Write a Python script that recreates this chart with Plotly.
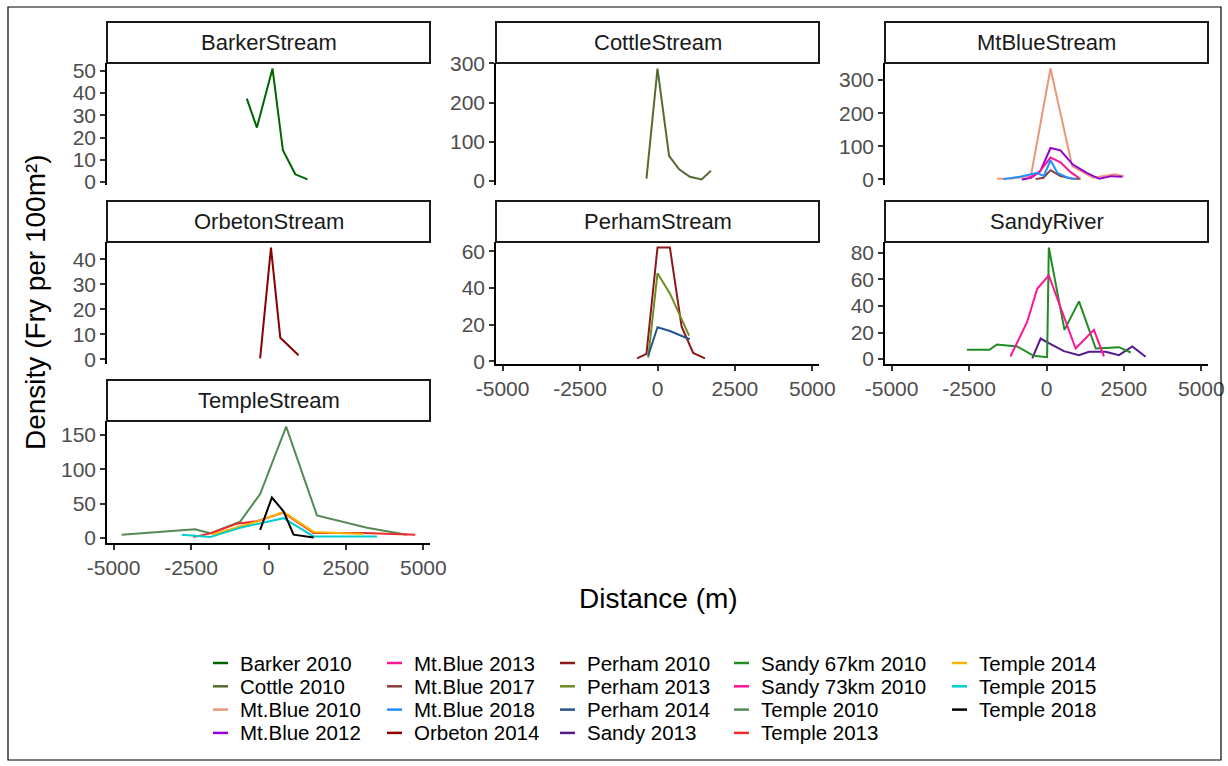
import plotly.graph_objects as go

# ---------------- data ----------------
panels = ["BarkerStream", "CottleStream", "MtBlueStream", "OrbetonStream",
          "PerhamStream", "SandyRiver", "TempleStream"]

barker_2010_x = [-700, -375, 130, 465, 865, 1260]
barker_2010_y = [37.5, 24.5, 51, 14.3, 3.5, 1.2]

cottle_2010_x = [-356, 0, 374, 699, 1045, 1424, 1725]
cottle_2010_y = [6, 287, 64, 30, 11, 4, 26]

mtblue_2010_x = [-1600, -1100, -500, 130, 830, 1500, 2200, 2500]
mtblue_2010_y = [2, 3, 12, 335, 40, 5, 16, 10]
mtblue_2012_x = [-800, -500, -200, 130, 450, 850, 1300, 1700, 2100, 2450]
mtblue_2012_y = [0, 5, 25, 95, 88, 45, 20, 2, 10, 8]
mtblue_2013_x = [-600, -250, 130, 450, 780, 1040]
mtblue_2013_y = [3, 20, 66, 52, 22, 5]
mtblue_2017_x = [-350, -100, 130, 450, 800, 1100]
mtblue_2017_y = [1, 5, 28, 10, 3, 2]
mtblue_2018_x = [-1400, -850, -300, -90, 130, 350, 670, 940]
mtblue_2018_y = [1, 8, 20, 10, 58, 20, 6, 1]

orbeton_2014_x = [-270, 80, 380, 970]
orbeton_2014_y = [0.3, 44.7, 8.6, 1.6]

perham_2010_x = [-660, -356, 0, 400, 777, 1152, 1531]
perham_2010_y = [1.5, 4, 62, 62, 19, 4.5, 1.5]
perham_2013_x = [-300, 0, 400, 1020]
perham_2013_y = [2, 48, 37, 14]
perham_2014_x = [-300, 0, 400, 1040]
perham_2014_y = [3, 18.5, 16.5, 12]

sandy_2013_x = [-460, -190, 75, 560, 1050, 1370, 1910, 2340, 2770, 3200]
sandy_2013_y = [0.5, 15.5, 12, 6, 3, 5.5, 5.5, 3, 9.5, 1.8]
sandy67_2010_x = [-2570, -1840, -1600, -1270, -950, -410, 20, 75, 580, 1050, 1590, 2340, 2720]
sandy67_2010_y = [7, 7, 11, 10.5, 9.5, 2.5, 1.5, 84, 22, 43.5, 8, 9, 5]
sandy73_2010_x = [-1165, -625, -300, 75, 940, 1530, 1855]
sandy73_2010_y = [2, 28, 53, 63, 8, 22, 2]

temple_2010_x = [-4740, -2370, -1885, -915, -270, 570, 1565, 3180, 4470]
temple_2010_y = [5, 13, 7, 24, 64, 162, 33, 15, 5]
temple_2013_x = [-2425, -1830, -1020, -375, 485, 1455, 3070, 4740]
temple_2013_y = [1.5, 7.4, 21, 24.5, 37, 7.4, 7.4, 4.9]
temple_2014_x = [-1830, -1020, -375, 485, 1455, 3070]
temple_2014_y = [5, 15, 24, 38, 9, 6]
temple_2015_x = [-2800, -1885, -915, -375, 485, 1455, 3500]
temple_2015_y = [5, 1.5, 15, 20, 29, 2.5, 2.5]
temple_2018_x = [-270, 110, 485, 810, 1455]
temple_2018_y = [12, 59, 39, 5, 1]

series = [
    ("Barker 2010", "BarkerStream", barker_2010_x, barker_2010_y),
    ("Cottle 2010", "CottleStream", cottle_2010_x, cottle_2010_y),
    ("Mt.Blue 2010", "MtBlueStream", mtblue_2010_x, mtblue_2010_y),
    ("Mt.Blue 2012", "MtBlueStream", mtblue_2012_x, mtblue_2012_y),
    ("Mt.Blue 2013", "MtBlueStream", mtblue_2013_x, mtblue_2013_y),
    ("Mt.Blue 2017", "MtBlueStream", mtblue_2017_x, mtblue_2017_y),
    ("Mt.Blue 2018", "MtBlueStream", mtblue_2018_x, mtblue_2018_y),
    ("Orbeton 2014", "OrbetonStream", orbeton_2014_x, orbeton_2014_y),
    ("Perham 2010", "PerhamStream", perham_2010_x, perham_2010_y),
    ("Perham 2013", "PerhamStream", perham_2013_x, perham_2013_y),
    ("Perham 2014", "PerhamStream", perham_2014_x, perham_2014_y),
    ("Sandy 2013", "SandyRiver", sandy_2013_x, sandy_2013_y),
    ("Sandy 67km 2010", "SandyRiver", sandy67_2010_x, sandy67_2010_y),
    ("Sandy 73km 2010", "SandyRiver", sandy73_2010_x, sandy73_2010_y),
    ("Temple 2010", "TempleStream", temple_2010_x, temple_2010_y),
    ("Temple 2013", "TempleStream", temple_2013_x, temple_2013_y),
    ("Temple 2014", "TempleStream", temple_2014_x, temple_2014_y),
    ("Temple 2015", "TempleStream", temple_2015_x, temple_2015_y),
    ("Temple 2018", "TempleStream", temple_2018_x, temple_2018_y),
]

x_ticks = [-5000, -2500, 0, 2500, 5000]
y_ticks = {
    "BarkerStream": [0, 10, 20, 30, 40, 50],
    "CottleStream": [0, 100, 200, 300],
    "MtBlueStream": [0, 100, 200, 300],
    "OrbetonStream": [0, 10, 20, 30, 40],
    "PerhamStream": [0, 20, 40, 60],
    "SandyRiver": [0, 20, 40, 60, 80],
    "TempleStream": [0, 50, 100, 150],
}

# ---------------- styles ----------------
colors = {
    "Barker 2010": "#006400", "Cottle 2010": "#556B2F", "Mt.Blue 2010": "#E9967A",
    "Mt.Blue 2012": "#9400D3", "Mt.Blue 2013": "#FF1493", "Mt.Blue 2017": "#8B3A3A",
    "Mt.Blue 2018": "#1E90FF", "Orbeton 2014": "#8B0000", "Perham 2010": "#8B1A1A",
    "Perham 2013": "#6B8E23", "Perham 2014": "#27548F", "Sandy 67km 2010": "#228B22",
    "Sandy 73km 2010": "#FF1493", "Sandy 2013": "#551A8B", "Temple 2010": "#548B54",
    "Temple 2013": "#EE2C2C", "Temple 2014": "#FFB000", "Temple 2015": "#00CED1",
    "Temple 2018": "#000000",
}

W, H = 1228, 766
FONT = "Liberation Sans, Arial, sans-serif"
col_left = [107, 496, 885]
panel_w = 323
row_top = [63, 242, 421]
panel_h = 122
strip_h = 41

def px(x):
    return x / W

def py(y):
    return 1 - y / H

fig = go.Figure()

# x range shared (ggplot 5% expansion)
all_x = [v for s in series for v in s[2]]
xmin, xmax = min(all_x), max(all_x)
xpad = 0.05 * (xmax - xmin)
x_range = [xmin - xpad, xmax + xpad]

shapes = []
annotations = []

for i, p in enumerate(panels):
    r, c = divmod(i, 3)
    k = i + 1
    xa = "xaxis" if k == 1 else f"xaxis{k}"
    ya = "yaxis" if k == 1 else f"yaxis{k}"
    x0, x1 = col_left[c], col_left[c] + panel_w
    t = row_top[r]
    b = t + panel_h
    ys = [v for s in series if s[1] == p for v in s[3]]
    ymin, ymax = min(ys), max(ys)
    ypad = 0.05 * (ymax - ymin)
    show_x = (r == 2) or (r == 1 and c > 0)
    fig.layout[xa] = dict(
        domain=[px(x0), px(x1)], range=x_range, anchor=f"y{k}" if k > 1 else "y",
        automargin=False,
        showgrid=False, zeroline=False, showline=show_x, linecolor="black", linewidth=1.5,
        ticks="outside" if show_x else "", ticklen=5, tickwidth=1.5, tickcolor="#333333",
        tickvals=x_ticks, ticktext=[str(v) for v in x_ticks], showticklabels=show_x,
        tickfont=dict(family=FONT, size=21, color="#4D4D4D"),
    )
    fig.layout[ya] = dict(
        domain=[py(b), py(t)], range=[ymin - ypad, ymax + ypad], anchor=f"x{k}" if k > 1 else "x",
        automargin=False,
        showgrid=False, zeroline=False, showline=True, linecolor="black", linewidth=1.5,
        ticks="outside", ticklen=5, tickwidth=1.5, tickcolor="#333333",
        tickvals=y_ticks[p], ticktext=[str(v) for v in y_ticks[p]],
        tickfont=dict(family=FONT, size=21, color="#4D4D4D"),
    )
    # strip
    shapes.append(dict(type="rect", xref="paper", yref="paper",
                       x0=px(x0), x1=px(x1), y0=py(t), y1=py(t - strip_h),
                       line=dict(color="#1A1A1A", width=2), fillcolor="white", layer="below"))
    annotations.append(dict(xref="paper", yref="paper", x=px((x0 + x1) / 2), y=py(t - strip_h / 2),
                            text=p, showarrow=False, xanchor="center", yanchor="middle",
                            font=dict(family=FONT, size=22, color="#1A1A1A")))

for name, p, xs, ys in series:
    k = panels.index(p) + 1
    fig.add_trace(go.Scatter(
        x=xs, y=ys, mode="lines", name=name, showlegend=False,
        line=dict(color=colors[name], width=2),
        xaxis="x" if k == 1 else f"x{k}", yaxis="y" if k == 1 else f"y{k}",
    ))

# axis titles
annotations.append(dict(xref="paper", yref="paper", x=px(658), y=py(598), text="Distance (m)",
                        showarrow=False, xanchor="center", yanchor="middle",
                        font=dict(family=FONT, size=28, color="black")))
annotations.append(dict(xref="paper", yref="paper", x=px(35), y=py(302),
                        text="Density (Fry per 100m²)", textangle=-90,
                        showarrow=False, xanchor="center", yanchor="middle",
                        font=dict(family=FONT, size=28, color="black")))

# legend (ggplot style, column-major, 4 rows)
leg_text_x = [240, 414, 587, 761, 979]
leg_row_y = [663, 686.3, 709.6, 732.9]
for i, (name, p, xs, ys) in enumerate(series):
    c, r = divmod(i, 4)
    tx, ty = leg_text_x[c], leg_row_y[r]
    shapes.append(dict(type="line", xref="paper", yref="paper",
                       x0=px(tx - 27), x1=px(tx - 12), y0=py(ty), y1=py(ty),
                       line=dict(color=colors[name], width=2.5)))
    annotations.append(dict(xref="paper", yref="paper", x=px(tx - 2), y=py(ty), text=name,
                            showarrow=False, xanchor="left", yanchor="middle",
                            font=dict(family=FONT, size=20.5, color="black")))

# outer border
shapes.append(dict(type="rect", xref="paper", yref="paper", x0=px(8), x1=px(1221),
                   y0=py(760), y1=py(7), line=dict(color="black", width=1.2)))

fig.update_layout(
    width=W, height=H, margin=dict(l=0, r=0, t=0, b=0, autoexpand=False),
    paper_bgcolor="white", plot_bgcolor="rgba(0,0,0,0)",
    shapes=shapes, annotations=annotations, showlegend=False,
    font=dict(family=FONT),
)

fig.write_html("out.html")
